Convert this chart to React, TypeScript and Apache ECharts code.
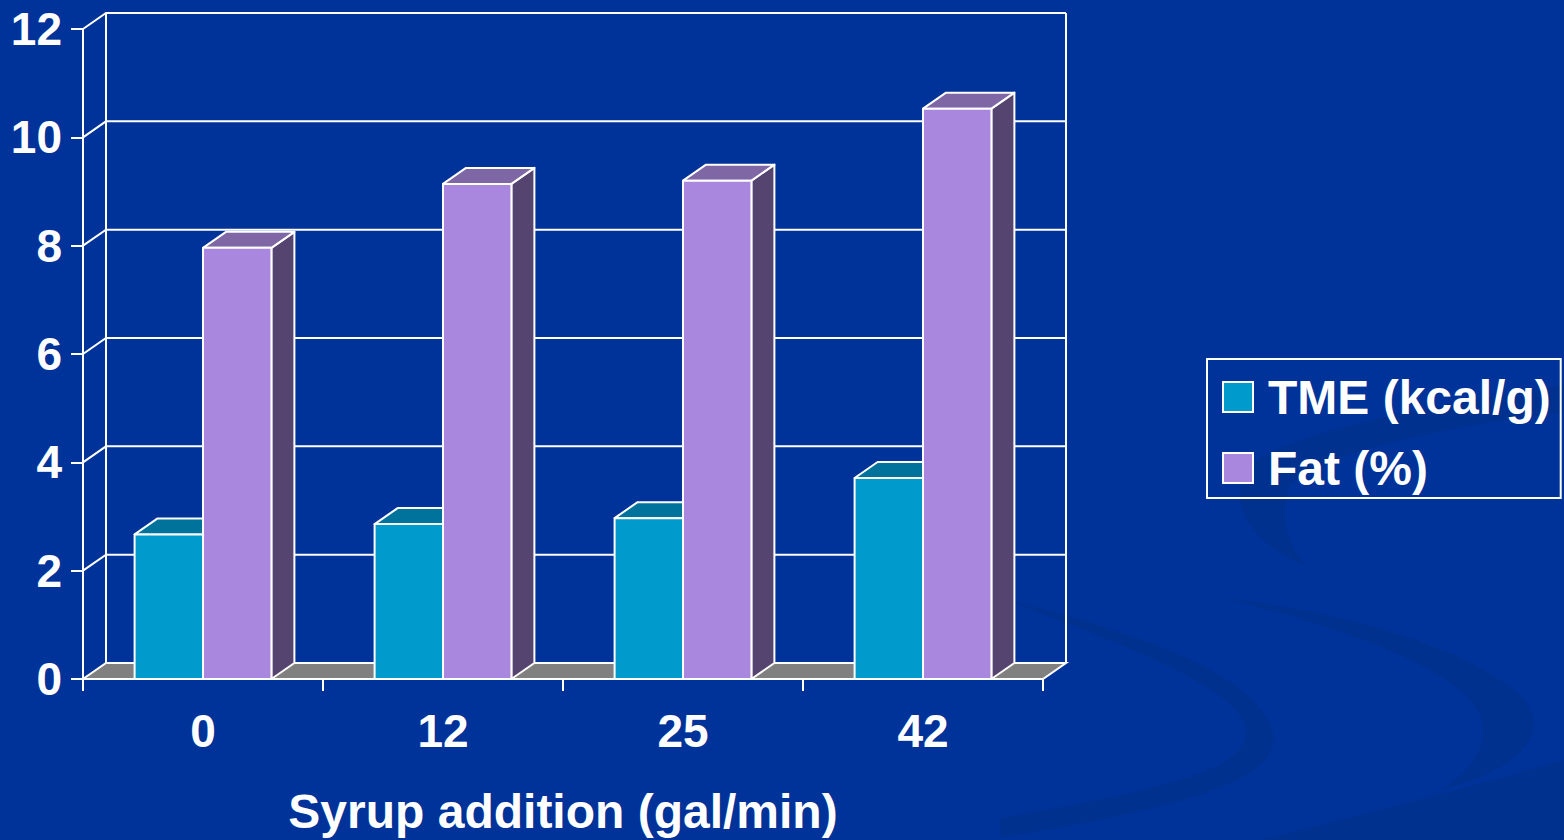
import React, { useEffect, useRef } from "react";
import * as echarts from "echarts";

const categories = ["0", "12", "25", "42"];
const tmeValues = [2.67, 2.86, 2.97, 3.71];
const fatValues = [7.96, 9.14, 9.2, 10.53];
const yTicks = [0, 2, 4, 6, 8, 10, 12];
const seriesNames = ["TME (kcal/g)", "Fat (%)"];
const xTitle = "Syrup addition (gal/min)";

const DX = 23;
const DY = -16;
const FONT = '"Liberation Sans", Arial, Helvetica, sans-serif';

const tmeColors = { front: "#009ACD", top: "#00739C", side: "#005A7A" };
const fatColors = { front: "#A987DE", top: "#7F67A6", side: "#55446F" };

const swooshes: { name: string; d: string }[] = [
  {
    name: "swooshA",
    d: "M 1000 598 C 1130 630 1250 670 1272 728 C 1290 780 1180 808 1000 838 L 1000 818 C 1160 790 1250 770 1246 730 C 1240 690 1140 650 1000 598 Z",
  },
  {
    name: "swooshB",
    d: "M 1305 565 C 1255 545 1236 515 1240 480 C 1250 440 1400 410 1564 385 L 1564 412 C 1420 430 1300 460 1288 490 C 1280 520 1288 545 1305 565 Z",
  },
  {
    name: "swooshC",
    d: "M 1225 598 C 1330 610 1450 640 1515 690 C 1560 730 1520 770 1440 790 C 1475 770 1490 740 1480 715 C 1460 670 1350 630 1225 598 Z",
  },
  {
    name: "swooshD",
    d: "M 1260 840 C 1360 815 1460 790 1564 760 L 1564 840 Z",
  },
];

let registered = false;
function registerShapes() {
  if (registered) return;
  registered = true;
  swooshes.forEach((s) => {
    echarts.graphic.registerShape(s.name, echarts.graphic.extendPath(s.d, {}) as any);
  });
}

function makeBarSeries(name: string, values: number[], colors: any, side: number) {
  return {
    type: "custom",
    name,
    z: 3,
    data: values.map((v, i) => [i, v]),
    encode: { x: 0, y: 1 },
    itemStyle: { color: colors.front },
    renderItem: (params: any, api: any) => {
      const i = api.value(0);
      const v = api.value(1);
      const base = api.coord([i, 0]);
      const top = api.coord([i, v]);
      const band = api.size([1, 0])[0];
      const w = band * 0.285;
      const x0 = side === 0 ? base[0] - w : base[0];
      const x1 = x0 + w;
      const yT = top[1];
      const yB = base[1];
      const st = { stroke: "#ffffff", lineWidth: 2, lineJoin: "round" };
      return {
        type: "group",
        children: [
          {
            type: "polygon",
            shape: { points: [[x1, yT], [x1 + DX, yT + DY], [x1 + DX, yB + DY], [x1, yB]] },
            style: { ...st, fill: colors.side },
          },
          {
            type: "polygon",
            shape: { points: [[x0, yT], [x1, yT], [x1 + DX, yT + DY], [x0 + DX, yT + DY]] },
            style: { ...st, fill: colors.top },
          },
          {
            type: "rect",
            shape: { x: x0, y: yT, width: w, height: yB - yT },
            style: { ...st, fill: colors.front },
          },
        ],
      };
    },
  };
}

export default function App() {
  const ref = useRef<HTMLDivElement>(null);
  useEffect(() => {
    if (!ref.current) return;
    registerShapes();
    const chart = echarts.init(ref.current, null, { renderer: "svg" });
    const option: any = {
      animation: false,
      backgroundColor: "#003399",
      graphic: {
        elements: swooshes.map((s) => ({
          type: s.name,
          x: 0,
          y: 0,
          z: -100,
          silent: true,
          style: { fill: "#00318E" },
        })),
      },
      grid: { left: 83, top: 29, width: 960, height: 651, containLabel: false },
      legend: {
        orient: "vertical",
        left: 1207,
        top: 359,
        data: seriesNames.map((n, i) => ({
          name: n,
          itemStyle: {
            color: i === 0 ? tmeColors.front : fatColors.front,
            borderColor: "#ffffff",
            borderWidth: 2,
          },
        })),
        icon: "rect",
        itemWidth: 30,
        itemHeight: 30,
        itemGap: 23,
        borderColor: "#ffffff",
        borderWidth: 2,
        padding: [14, 10, 6, 15],
        selectedMode: false,
        textStyle: {
          color: "#ffffff",
          fontSize: 48,
          fontWeight: "bold",
          fontFamily: FONT,
          padding: [0, 0, 0, 10],
        },
      },
      xAxis: {
        type: "category",
        data: categories,
        boundaryGap: true,
        axisLine: { show: true, lineStyle: { color: "#ffffff", width: 2 } },
        axisTick: { show: true, length: 12, lineStyle: { color: "#ffffff", width: 2 } },
        axisLabel: {
          color: "#ffffff",
          fontSize: 46,
          fontWeight: "bold",
          fontFamily: FONT,
          margin: 29,
        },
        splitLine: { show: false },
        name: xTitle,
        nameLocation: "middle",
        nameGap: 108,
        nameTextStyle: { color: "#ffffff", fontSize: 48, fontWeight: "bold", fontFamily: FONT },
      },
      yAxis: {
        type: "value",
        min: 0,
        max: 12,
        interval: 2,
        axisLine: { show: true, lineStyle: { color: "#ffffff", width: 2 } },
        axisTick: { show: true, length: 12, lineStyle: { color: "#ffffff", width: 2 } },
        axisLabel: {
          color: "#ffffff",
          fontSize: 46,
          fontWeight: "bold",
          fontFamily: FONT,
          margin: 21,
        },
        splitLine: { show: false },
      },
      series: [
        {
          type: "custom",
          name: "frame",
          z: 1,
          silent: true,
          data: yTicks.map((v) => [0, v]),
          encode: { x: 0, y: 1 },
          renderItem: (params: any, api: any) => {
            const v = api.value(1);
            const cs = params.coordSys;
            const left = cs.x;
            const right = cs.x + cs.width;
            const y = api.coord([0, v])[1];
            const children: any[] = [];
            const ls = { stroke: "#ffffff", lineWidth: 2, fill: "none" };
            if (v === yTicks[0]) {
              const yTop = api.coord([0, yTicks[yTicks.length - 1]])[1];
              children.push({
                type: "line",
                shape: { x1: left + DX, y1: y + DY, x2: left + DX, y2: yTop + DY },
                style: ls,
              });
              children.push({
                type: "line",
                shape: { x1: right + DX, y1: y + DY, x2: right + DX, y2: yTop + DY },
                style: ls,
              });
              children.push({
                type: "polygon",
                shape: { points: [[left, y], [right, y], [right + DX, y + DY], [left + DX, y + DY]] },
                style: { fill: "#808080", stroke: "#ffffff", lineWidth: 2 },
              });
            } else {
              children.push({
                type: "polyline",
                shape: { points: [[left, y], [left + DX, y + DY], [right + DX, y + DY]] },
                style: ls,
              });
            }
            return { type: "group", children };
          },
        },
        makeBarSeries(seriesNames[0], tmeValues, tmeColors, 0),
        makeBarSeries(seriesNames[1], fatValues, fatColors, 1),
      ],
    };
    chart.setOption(option);
    return () => chart.dispose();
  }, []);
  return (
    <div
      ref={ref}
      style={{ position: "fixed", left: 0, top: 0, width: 1564, height: 840 }}
    />
  );
}
